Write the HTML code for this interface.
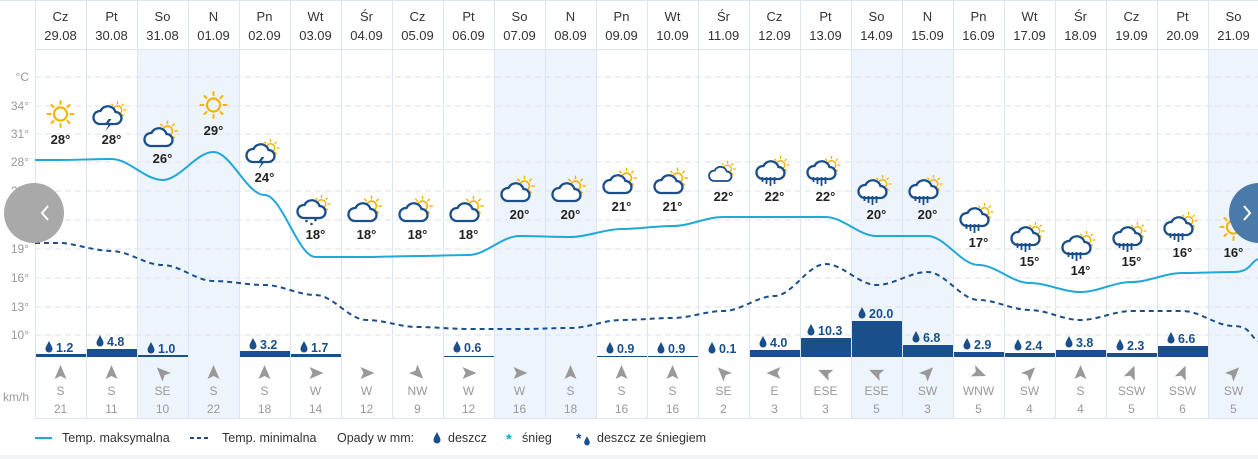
<!DOCTYPE html>
<html><head><meta charset="utf-8"><style>
body{margin:0;background:#fff;width:1258px;height:459px;overflow:hidden}
svg{display:block;font-family:"Liberation Sans",sans-serif}
.h{font-size:13px;fill:#333;text-anchor:middle}
.t{font-size:13px;font-weight:bold;fill:#222;text-anchor:middle}
.ax{font-size:12px;fill:#999;text-anchor:end}
.p{font-size:12.5px;font-weight:bold;fill:#1a4f8b}
.w{font-size:12px;fill:#999;text-anchor:middle}
.l{font-size:12.5px;fill:#333}
</style></head><body>
<svg width="1258" height="459" viewBox="0 0 1258 459">
<defs>
<g id="sunR"><circle r="6.5" fill="none" stroke="#f5b400" stroke-width="2.2"/><g stroke="#f5b400" stroke-width="2" stroke-linecap="round"><line x1="0" y1="-10" x2="0" y2="-13"/><line x1="0" y1="10" x2="0" y2="13"/><line x1="-10" y1="0" x2="-13" y2="0"/><line x1="10" y1="0" x2="13" y2="0"/><line x1="7" y1="7" x2="9" y2="9"/><line x1="-7" y1="7" x2="-9" y2="9"/><line x1="7" y1="-7" x2="9" y2="-9"/><line x1="-7" y1="-7" x2="-9" y2="-9"/></g></g>
<g id="sun"><use href="#sunR"/></g>
<path id="cl" d="M-9,7 h16 a6,6 0 0 0 0,-12 a8,8 0 0 0 -15,-1 a6.5,6.5 0 0 0 -1,13z" fill="#fff" stroke="#1a4f8b" stroke-width="2.3"/>
<g id="ps"><use href="#sunR" transform="translate(5,-5) scale(0.75)"/><use href="#cl" transform="translate(-3,3)"/></g>
<g id="st"><use href="#sunR" transform="translate(6,-6) scale(0.65)"/><use href="#cl" transform="translate(-3,1)"/><path d="M-3,3 l-4,6 h4 l-3,6 l7,-8 h-4 l3,-4z" fill="#1a4f8b"/></g>
<g id="rn"><use href="#sunR" transform="translate(6,-6) scale(0.65)"/><use href="#cl" transform="translate(-3,1)"/><g stroke="#1a4f8b" stroke-width="1.8"><line x1="-8" y1="6" x2="-8" y2="13"/><line x1="-4" y1="6" x2="-4" y2="15"/><line x1="0" y1="6" x2="0" y2="13"/><line x1="-12" y1="6" x2="-12" y2="11"/></g></g>
<g id="rs"><use href="#sunR" transform="translate(6,-6) scale(0.65)"/><use href="#cl" transform="translate(-3,1)"/><g fill="#1a4f8b"><circle cx="-9" cy="11" r="1.3"/><circle cx="-4" cy="14" r="1.3"/><circle cx="0" cy="10" r="1.3"/></g></g>
<path id="dr" d="M0,-6 C2,-2 3.5,0 3.5,2 a3.5,3.5 0 0 1 -7,0 C-3.5,0 -2,-2 0,-6z" fill="#1a4f8b"/>
<path id="ar" d="M0,-8 L6,6 L0,3 L-6,6z" fill="#999"/>
</defs>
<!-- shading weekends -->
<g fill="#eef4fb">
<rect x="137" y="49" width="102" height="369"/><rect x="494" y="49" width="102" height="369"/><rect x="851" y="49" width="102" height="369"/><rect x="1208" y="49" width="51" height="369"/>
</g>
<!-- horizontal grid -->
<g stroke="#dde3ea" stroke-dasharray="6,4" stroke-width="1">
<line x1="35" y1="77" x2="1258" y2="77"/><line x1="35" y1="106" x2="1258" y2="106"/><line x1="35" y1="134" x2="1258" y2="134"/><line x1="35" y1="162" x2="1258" y2="162"/><line x1="35" y1="191" x2="1258" y2="191"/><line x1="35" y1="220" x2="1258" y2="220"/><line x1="35" y1="249" x2="1258" y2="249"/><line x1="35" y1="278" x2="1258" y2="278"/><line x1="35" y1="307" x2="1258" y2="307"/><line x1="35" y1="335" x2="1258" y2="335"/>
</g>
<g stroke="#dde6ef" stroke-width="1">
<line x1="0" y1="0.5" x2="1258" y2="0.5"/><line x1="35" y1="49.5" x2="1258" y2="49.5"/><line x1="35" y1="418.5" x2="1258" y2="418.5"/>
<line x1="35.5" y1="0" x2="35.5" y2="418"/><line x1="86.5" y1="0" x2="86.5" y2="418"/><line x1="137.5" y1="0" x2="137.5" y2="418"/><line x1="188.5" y1="0" x2="188.5" y2="418"/><line x1="239.5" y1="0" x2="239.5" y2="418"/><line x1="290.5" y1="0" x2="290.5" y2="418"/><line x1="341.5" y1="0" x2="341.5" y2="418"/><line x1="392.5" y1="0" x2="392.5" y2="418"/><line x1="443.5" y1="0" x2="443.5" y2="418"/><line x1="494.5" y1="0" x2="494.5" y2="418"/><line x1="545.5" y1="0" x2="545.5" y2="418"/><line x1="596.5" y1="0" x2="596.5" y2="418"/><line x1="647.5" y1="0" x2="647.5" y2="418"/><line x1="698.5" y1="0" x2="698.5" y2="418"/><line x1="749.5" y1="0" x2="749.5" y2="418"/><line x1="800.5" y1="0" x2="800.5" y2="418"/><line x1="851.5" y1="0" x2="851.5" y2="418"/><line x1="902.5" y1="0" x2="902.5" y2="418"/><line x1="953.5" y1="0" x2="953.5" y2="418"/><line x1="1004.5" y1="0" x2="1004.5" y2="418"/><line x1="1055.5" y1="0" x2="1055.5" y2="418"/><line x1="1106.5" y1="0" x2="1106.5" y2="418"/><line x1="1157.5" y1="0" x2="1157.5" y2="418"/><line x1="1208.5" y1="0" x2="1208.5" y2="418"/>
</g>
<line x1="0" y1="446" x2="1258" y2="446" stroke="#eef1f4" stroke-width="0"/>
<!-- axis -->
<g class="ax"><text x="29" y="81">°C</text><text x="29" y="110">34°</text><text x="29" y="138">31°</text><text x="29" y="166">28°</text><text x="29" y="195">25°</text><text x="29" y="224">22°</text><text x="29" y="253">19°</text><text x="29" y="282">16°</text><text x="29" y="311">13°</text><text x="29" y="339">10°</text><text x="29" y="401">km/h</text></g>
<!-- header -->
<g class="h">
<text x="60.5" y="21">Cz</text><text x="60.5" y="40">29.08</text>
<text x="111.5" y="21">Pt</text><text x="111.5" y="40">30.08</text>
<text x="162.5" y="21">So</text><text x="162.5" y="40">31.08</text>
<text x="213.5" y="21">N</text><text x="213.5" y="40">01.09</text>
<text x="264.5" y="21">Pn</text><text x="264.5" y="40">02.09</text>
<text x="315.5" y="21">Wt</text><text x="315.5" y="40">03.09</text>
<text x="366.5" y="21">Śr</text><text x="366.5" y="40">04.09</text>
<text x="417.5" y="21">Cz</text><text x="417.5" y="40">05.09</text>
<text x="468.5" y="21">Pt</text><text x="468.5" y="40">06.09</text>
<text x="519.5" y="21">So</text><text x="519.5" y="40">07.09</text>
<text x="570.5" y="21">N</text><text x="570.5" y="40">08.09</text>
<text x="621.5" y="21">Pn</text><text x="621.5" y="40">09.09</text>
<text x="672.5" y="21">Wt</text><text x="672.5" y="40">10.09</text>
<text x="723.5" y="21">Śr</text><text x="723.5" y="40">11.09</text>
<text x="774.5" y="21">Cz</text><text x="774.5" y="40">12.09</text>
<text x="825.5" y="21">Pt</text><text x="825.5" y="40">13.09</text>
<text x="876.5" y="21">So</text><text x="876.5" y="40">14.09</text>
<text x="927.5" y="21">N</text><text x="927.5" y="40">15.09</text>
<text x="978.5" y="21">Pn</text><text x="978.5" y="40">16.09</text>
<text x="1029.5" y="21">Wt</text><text x="1029.5" y="40">17.09</text>
<text x="1080.5" y="21">Śr</text><text x="1080.5" y="40">18.09</text>
<text x="1131.5" y="21">Cz</text><text x="1131.5" y="40">19.09</text>
<text x="1182.5" y="21">Pt</text><text x="1182.5" y="40">20.09</text>
<text x="1233.5" y="21">So</text><text x="1233.5" y="40">21.09</text>
</g>
<!-- temp lines -->
<path fill="none" stroke="#1fa8d8" stroke-width="2" d="M35,160 C48,160 48,160 60.5,160 S94,159 111.5,159 S145,180 162.5,180 S196,152 213.5,152 S247,195 264.5,195 S298,257 315.5,257 S349,257 366.5,257 S400,256 417.5,256 S451,255 468.5,255 S502,236 519.5,236 S553,237 570.5,237 S604,229 621.5,229 S655,226 672.5,226 S706,217 723.5,217 S757,217 774.5,217 S808,217 825.5,217 S859,236 876.5,236 S910,236 927.5,236 S961,265 978.5,265 S1012,283 1029.5,283 S1063,292 1080.5,292 S1114,282 1131.5,282 S1165,273 1182.5,273 S1216,272 1233.5,272 S1250,262 1258,259"/>
<path fill="none" stroke="#1a4f8b" stroke-width="2" stroke-dasharray="5,4" d="M35,243 C48,243 48,243 60.5,243 S94,251 111.5,251 S145,265 162.5,265 S196,281 213.5,281 S247,285 264.5,285 S298,295 315.5,295 S349,320 366.5,320 S400,327 417.5,327 S451,329 468.5,329 S502,329 519.5,329 S553,328 570.5,328 S604,320 621.5,320 S655,318 672.5,318 S706,311 723.5,311 S757,296 774.5,296 S808,264 825.5,264 S859,285 876.5,285 S910,272 927.5,272 S961,300 978.5,300 S1012,310 1029.5,310 S1063,320 1080.5,320 S1114,311 1131.5,311 S1165,311 1182.5,311 S1216,326 1233.5,326 S1250,337 1258,341"/>
<!-- icons -->
<use href="#sun" x="60.5" y="114"/><use href="#st" x="111.5" y="116"/><use href="#ps" x="162.5" y="136"/><use href="#sun" x="213.5" y="105"/><use href="#st" x="264.5" y="154"/><use href="#rs" x="315.5" y="210"/><use href="#ps" x="366.5" y="211"/><use href="#ps" x="417.5" y="211"/><use href="#ps" x="468.5" y="211"/><use href="#ps" x="519.5" y="191"/><use href="#ps" x="570.5" y="191"/><use href="#ps" x="621.5" y="183"/><use href="#ps" x="672.5" y="183"/><use href="#ps" x="723.5" y="173" transform="translate(723.5,173) scale(0.8) translate(-723.5,-173)"/><use href="#rn" x="774.5" y="171"/><use href="#rn" x="825.5" y="171"/><use href="#rn" x="876.5" y="190"/><use href="#rn" x="927.5" y="190"/><use href="#rn" x="978.5" y="218"/><use href="#rn" x="1029.5" y="237"/><use href="#rn" x="1080.5" y="246"/><use href="#rn" x="1131.5" y="237"/><use href="#rn" x="1182.5" y="227"/><use href="#sun" x="1233.5" y="227"/>
<g class="t">
<text x="60.5" y="144">28°</text><text x="111.5" y="144">28°</text><text x="162.5" y="163">26°</text><text x="213.5" y="135">29°</text><text x="264.5" y="182">24°</text><text x="315.5" y="239">18°</text><text x="366.5" y="239">18°</text><text x="417.5" y="239">18°</text><text x="468.5" y="239">18°</text><text x="519.5" y="219">20°</text><text x="570.5" y="219">20°</text><text x="621.5" y="211">21°</text><text x="672.5" y="211">21°</text><text x="723.5" y="201">22°</text><text x="774.5" y="201">22°</text><text x="825.5" y="201">22°</text><text x="876.5" y="219">20°</text><text x="927.5" y="219">20°</text><text x="978.5" y="247">17°</text><text x="1029.5" y="266">15°</text><text x="1080.5" y="275">14°</text><text x="1131.5" y="266">15°</text><text x="1182.5" y="257">16°</text><text x="1233.5" y="257">16°</text>
</g>
<!-- precipitation bars -->
<g fill="#1a4f8b">
<rect x="36" y="354" width="50" height="3"/><rect x="87" y="349" width="50" height="8"/><rect x="138" y="355" width="50" height="2"/><rect x="240" y="351" width="50" height="6"/><rect x="291" y="354" width="50" height="3"/><rect x="444" y="356" width="50" height="1"/><rect x="597" y="356" width="50" height="1"/><rect x="648" y="356" width="50" height="1"/><rect x="750" y="350" width="50" height="7"/><rect x="801" y="338" width="50" height="19"/><rect x="852" y="321" width="50" height="36"/><rect x="903" y="345" width="50" height="12"/><rect x="954" y="352" width="50" height="5"/><rect x="1005" y="353" width="50" height="4"/><rect x="1056" y="350" width="50" height="7"/><rect x="1107" y="353" width="50" height="4"/><rect x="1158" y="346" width="50" height="11"/>
</g>
<g class="p">
<use href="#dr" x="49" y="347"/><text x="56" y="352">1.2</text>
<use href="#dr" x="100" y="341"/><text x="107" y="346">4.8</text>
<use href="#dr" x="151" y="348"/><text x="158" y="353">1.0</text>
<use href="#dr" x="253" y="344"/><text x="260" y="349">3.2</text>
<use href="#dr" x="304" y="347"/><text x="311" y="352">1.7</text>
<use href="#dr" x="457" y="347"/><text x="464" y="352">0.6</text>
<use href="#dr" x="610" y="348"/><text x="617" y="353">0.9</text>
<use href="#dr" x="661" y="348"/><text x="668" y="353">0.9</text>
<use href="#dr" x="712" y="348"/><text x="719" y="353">0.1</text>
<use href="#dr" x="763" y="342"/><text x="770" y="347">4.0</text>
<use href="#dr" x="811" y="330"/><text x="818" y="335">10.3</text>
<use href="#dr" x="862" y="313"/><text x="869" y="318">20.0</text>
<use href="#dr" x="916" y="337"/><text x="923" y="342">6.8</text>
<use href="#dr" x="967" y="344"/><text x="974" y="349">2.9</text>
<use href="#dr" x="1018" y="345"/><text x="1025" y="350">2.4</text>
<use href="#dr" x="1069" y="342"/><text x="1076" y="347">3.8</text>
<use href="#dr" x="1120" y="345"/><text x="1127" y="350">2.3</text>
<use href="#dr" x="1171" y="338"/><text x="1178" y="343">6.6</text>
</g>
<!-- wind -->
<g>
<use href="#ar" transform="translate(60.5,373)"/><use href="#ar" transform="translate(111.5,373)"/><use href="#ar" transform="translate(162.5,373) rotate(-45)"/><use href="#ar" transform="translate(213.5,373)"/><use href="#ar" transform="translate(264.5,373)"/><use href="#ar" transform="translate(315.5,373) rotate(90)"/><use href="#ar" transform="translate(366.5,373) rotate(90)"/><use href="#ar" transform="translate(417.5,373) rotate(135)"/><use href="#ar" transform="translate(468.5,373) rotate(90)"/><use href="#ar" transform="translate(519.5,373) rotate(90)"/><use href="#ar" transform="translate(570.5,373)"/><use href="#ar" transform="translate(621.5,373)"/><use href="#ar" transform="translate(672.5,373)"/><use href="#ar" transform="translate(723.5,373) rotate(-45)"/><use href="#ar" transform="translate(774.5,373) rotate(-90)"/><use href="#ar" transform="translate(825.5,373) rotate(-67)"/><use href="#ar" transform="translate(876.5,373) rotate(-67)"/><use href="#ar" transform="translate(927.5,373) rotate(45)"/><use href="#ar" transform="translate(978.5,373) rotate(112)"/><use href="#ar" transform="translate(1029.5,373) rotate(45)"/><use href="#ar" transform="translate(1080.5,373)"/><use href="#ar" transform="translate(1131.5,373) rotate(22)"/><use href="#ar" transform="translate(1182.5,373) rotate(22)"/><use href="#ar" transform="translate(1233.5,373) rotate(45)"/>
</g>
<g class="w">
<text x="60.5" y="395">S</text><text x="111.5" y="395">S</text><text x="162.5" y="395">SE</text><text x="213.5" y="395">S</text><text x="264.5" y="395">S</text><text x="315.5" y="395">W</text><text x="366.5" y="395">W</text><text x="417.5" y="395">NW</text><text x="468.5" y="395">W</text><text x="519.5" y="395">W</text><text x="570.5" y="395">S</text><text x="621.5" y="395">S</text><text x="672.5" y="395">S</text><text x="723.5" y="395">SE</text><text x="774.5" y="395">E</text><text x="825.5" y="395">ESE</text><text x="876.5" y="395">ESE</text><text x="927.5" y="395">SW</text><text x="978.5" y="395">WNW</text><text x="1029.5" y="395">SW</text><text x="1080.5" y="395">S</text><text x="1131.5" y="395">SSW</text><text x="1182.5" y="395">SSW</text><text x="1233.5" y="395">SW</text>
<text x="60.5" y="413">21</text><text x="111.5" y="413">11</text><text x="162.5" y="413">10</text><text x="213.5" y="413">22</text><text x="264.5" y="413">18</text><text x="315.5" y="413">14</text><text x="366.5" y="413">12</text><text x="417.5" y="413">9</text><text x="468.5" y="413">12</text><text x="519.5" y="413">16</text><text x="570.5" y="413">18</text><text x="621.5" y="413">16</text><text x="672.5" y="413">16</text><text x="723.5" y="413">2</text><text x="774.5" y="413">3</text><text x="825.5" y="413">3</text><text x="876.5" y="413">5</text><text x="927.5" y="413">3</text><text x="978.5" y="413">5</text><text x="1029.5" y="413">4</text><text x="1080.5" y="413">4</text><text x="1131.5" y="413">5</text><text x="1182.5" y="413">6</text><text x="1233.5" y="413">5</text>
</g>
<!-- nav buttons -->
<circle cx="34" cy="213" r="30" fill="#a9a9a9"/><path d="M48,206 l-6,7 l6,7" fill="none" stroke="#fff" stroke-width="2"/>
<circle cx="1259" cy="213" r="30" fill="#4a7aa8"/><path d="M1244,206 l6,7 l-6,7" fill="none" stroke="#fff" stroke-width="2"/>
<!-- legend -->
<line x1="35" y1="438" x2="52" y2="438" stroke="#1fa8d8" stroke-width="2"/>
<text class="l" x="62" y="442">Temp. maksymalna</text>
<line x1="190" y1="438" x2="210" y2="438" stroke="#1a4f8b" stroke-width="2" stroke-dasharray="4,3"/>
<text class="l" x="222" y="442">Temp. minimalna</text>
<text class="l" x="337" y="442">Opady w mm:</text>
<use href="#dr" x="437" y="438"/><text class="l" x="448" y="442">deszcz</text>
<text x="506" y="444" font-size="15" font-weight="bold" fill="#1fa8b8">*</text><text class="l" x="522" y="442">śnieg</text>
<text x="576" y="443" font-size="14" font-weight="bold" fill="#1a4f8b">*</text><use href="#dr" transform="translate(587,441) scale(0.8)"/><text class="l" x="597" y="442">deszcz ze śniegiem</text>
<rect x="0" y="455" width="1258" height="4" fill="#f2f4f6"/>
</svg>
</body></html>
